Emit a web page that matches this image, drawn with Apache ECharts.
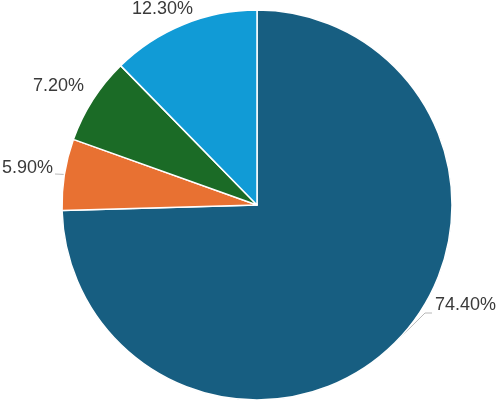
<!DOCTYPE html>
<html>
<head>
<meta charset="utf-8">
<script src="https://cdn.jsdelivr.net/npm/echarts@6/dist/echarts.min.js"></script>
<style>
  html, body { margin: 0; padding: 0; background: #fff; }
  #chart { width: 498px; height: 400px; }
</style>
</head>
<body>
<div id="chart"></div>
<script>
// slice data, clockwise from 12 o'clock
const names = ['A', 'B', 'C', 'D'];
const values = [74.4, 5.9, 7.2, 12.3];
const labels = ['74.40%', '5.90%', '7.20%', '12.30%'];
const colors = ['#175e81', '#e87132', '#1b6b26', '#119bd6'];

// where each label sits and where its leader line bends (layout only)
const labelPos = [
  { x: 435, y: 305, align: 'left', line: [[425, 313], [432, 313]] },
  { x: 53, y: 168, align: 'right', line: [[55, 174]] },
  { x: 84, y: 86, align: 'right', line: null },
  { x: 193, y: 9, align: 'right', line: null }
];

const chart = echarts.init(document.getElementById('chart'));

const option = {
  animation: false,
  series: [
    {
      type: 'pie',
      center: [257, 205],
      radius: [0, 195],
      startAngle: 90,
      clockwise: true,
      itemStyle: {
        borderColor: '#fff',
        borderWidth: 1.5
      },
      label: {
        show: true,
        position: 'outside',
        formatter: p => labels[p.dataIndex],
        color: '#3a3a3a',
        fontSize: 18,
        fontFamily: 'Liberation Sans, Arial, sans-serif',
        overflow: 'none'
      },
      labelLine: {
        show: true,
        length: 8,
        length2: 8,
        lineStyle: { color: '#b8b8b8', width: 1 }
      },
      labelLayout: p => {
        const lp = labelPos[p.dataIndex];
        const res = {
          x: lp.x,
          y: lp.y,
          align: lp.align,
          verticalAlign: 'middle'
        };
        if (lp.line && p.labelLinePoints) {
          res.labelLinePoints = [p.labelLinePoints[0]].concat(lp.line);
        }
        return res;
      },
      data: values.map((v, i) => ({
        name: names[i],
        value: v,
        itemStyle: { color: colors[i] },
        labelLine: { show: !!labelPos[i].line }
      }))
    }
  ]
};

chart.setOption(option);
</script>
</body>
</html>
